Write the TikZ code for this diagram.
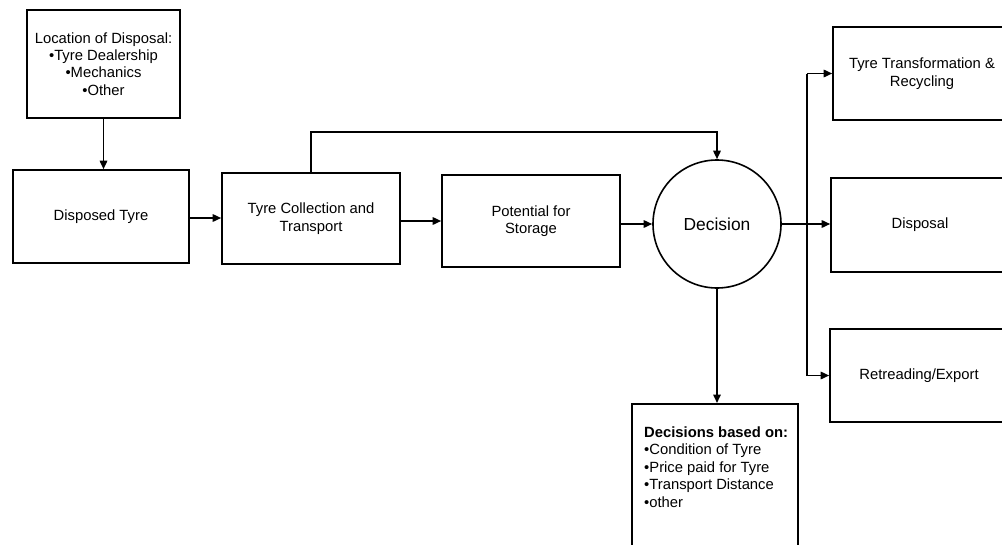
\documentclass[tikz,border=0pt]{standalone}
\usepackage{fontspec}
\setmainfont{Liberation Sans}
\usetikzlibrary{arrows.meta}
\begin{document}
\begin{tikzpicture}[x=1pt,y=-1pt,
  lw/.style={line width=1.6pt},
  box/.style={draw, lw, rectangle, inner sep=2pt, align=center,
    font=\fontsize{14.8}{17.4}\selectfont},
  arr/.style={lw, -{Triangle[length=8.5pt,width=7.5pt]}},
  link/.style={lw}]
\clip (0,0) rectangle (1002,544);
\useasboundingbox (0,0) rectangle (1002,544);

% left column and main chain
\node[box, minimum width=153, minimum height=108] (loc) at (103.5,64)
  {Location of Disposal:\\•Tyre Dealership\\•Mechanics\\•Other};
\node[box, minimum width=176, minimum height=93] (disp) at (101,216.5)
  {Disposed Tyre};
\node[box, minimum width=178, minimum height=91] (coll) at (311,218.5)
  {Tyre Collection and\\Transport};
\node[box, minimum width=178, minimum height=92] (stor) at (531,221)
  {Potential for\\Storage};
\node[draw, lw, circle, minimum size=128, inner sep=0pt,
  font=\fontsize{17.4}{20}\selectfont] (dec) at (717,224) {Decision};

% outcomes
\node[box, minimum width=178, minimum height=93] (ttr) at (922,73.5)
  {Tyre Transformation \&\\Recycling};
\node[box, minimum width=178, minimum height=94] (dsp) at (920,225)
  {Disposal};
\node[box, minimum width=178, minimum height=93] (ret) at (919,375.5)
  {Retreading/Export};

% decision criteria
\node[draw, lw, rectangle, minimum width=166, minimum height=170,
  anchor=north] (based) at (715,403) {};
\node[anchor=north west, inner sep=0pt, align=left,
  font=\fontsize{14.8}{17.4}\selectfont] (basedtxt) at (644,426.5)
  {\textbf{Decisions based on:}\\•Condition of Tyre\\•Price paid for Tyre\\•Transport Distance\\•other};

% connectors
\coordinate (bend) at (311,132);
\coordinate (busx) at (807,0);

\draw[arr] (loc.south) -- (loc.south |- disp.north);
\draw[arr] (disp.east |- 0,218) -- (coll.west |- 0,218);
\draw[arr] (coll.east |- 0,221) -- (stor.west |- 0,221);
\draw[arr] (stor.east |- dec.west) -- (dec.west);
\draw[arr] (coll.north) |- (dec.north |- bend) -- (dec.north);
\draw[arr] (dec.east) -- (dsp.west |- dec.east);
\draw[arr] (ttr.west -| busx) |- (ret.west);
\draw[arr] (ttr.west -| busx) -- (ttr.west);
\draw[arr] (dec.south) -- (dec.south |- based.north);
\end{tikzpicture}
\end{document}
